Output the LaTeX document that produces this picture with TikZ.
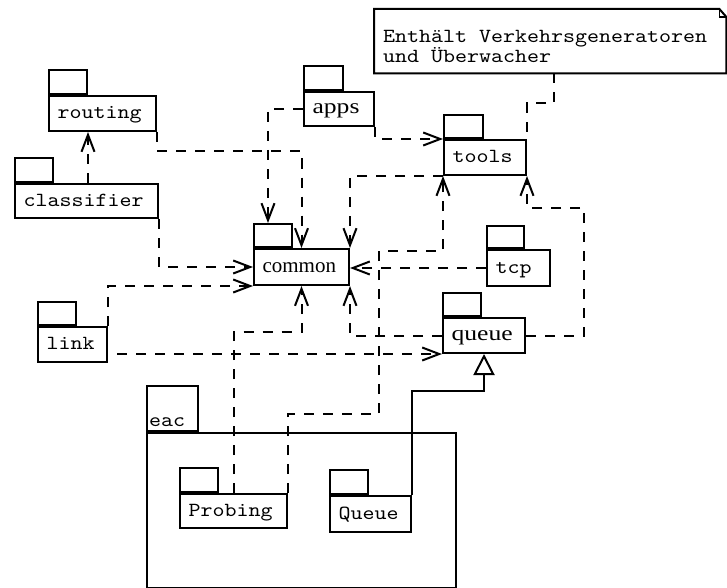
\documentclass[tikz,border=0pt]{standalone}
\usepackage{fontspec}
\usetikzlibrary{arrows.meta,calc}
\newfontfamily\pkgmono[FakeStretch=1.143]{lmmono10-regular.otf}
\newfontfamily\pkgserif{Liberation Serif}
\newfontfamily\pkgserifwide[FakeStretch=1.22]{Liberation Serif}
\newcommand\pkgsize{\fontsize{20}{20}\selectfont}

\begin{document}
\begin{tikzpicture}[x=1pt,y=-1pt,
  pkgbody/.style={draw, line width=2pt, anchor=north west, inner xsep=8.5pt,
    inner ysep=0pt, text height=14pt, text depth=4pt, align=left,
    font=\pkgmono\pkgsize},
  pkgtab/.style={draw, line width=2pt, anchor=south west, inner sep=0pt,
    minimum width=38pt, minimum height=24pt},
  dep/.style={line width=2pt, dash pattern=on 10pt off 9pt,
    -{Straight Barb[length=17pt,width=13pt]}},
  link line/.style={line width=2pt, dash pattern=on 10pt off 9pt},
  generalize/.style={line width=2pt,
    -{Triangle[open,fill=white,length=21pt,width=21pt]}},
  notetext/.style={anchor=base west, inner sep=0pt, font=\pkgmono\pkgsize}
]
\useasboundingbox (0,0) rectangle (727,588);

% ---- subsystem eac with its nested packages ----
\node[draw, line width=2pt, anchor=north west, minimum width=309pt,
  minimum height=155pt, inner sep=0pt] (eac) at (146,432) {};
\node[pkgtab, minimum width=51pt, minimum height=45pt] (eac-tab) at (eac.north west) {};
\node[notetext] (eac-label) at ([xshift=3pt,yshift=6pt]eac-tab.south west) {eac};

\node[pkgbody, text width=90pt, minimum height=34pt] (probing) at (179,493) {Probing};
\node[pkgtab] (probing-tab) at (probing.north west) {};
\node[pkgbody, text width=64pt, minimum height=36pt] (Queue) at (329,495) {Queue};
\node[pkgtab] (Queue-tab) at (Queue.north west) {};

% ---- top level packages ----
\node[pkgbody, text width=90pt, minimum height=35pt] (routing) at (48,95) {routing};
\node[pkgtab] (routing-tab) at (routing.north west) {};
\node[pkgbody, text width=126pt, minimum height=34pt] (classifier) at (14,183) {classifier};
\node[pkgtab] (classifier-tab) at (classifier.north west) {};
\node[pkgbody, text width=53pt, minimum height=34pt, font=\pkgserifwide\fontsize{21}{21}\selectfont] (apps) at (303,91) {apps};
\node[pkgtab, minimum width=39pt] (apps-tab) at (apps.north west) {};
\node[pkgbody, text width=65pt, minimum height=35pt] (tools) at (443,139) {tools};
\node[pkgtab, minimum width=39pt, minimum height=23pt] (tools-tab) at (tools.north west) {};
\node[pkgbody, text width=78pt, minimum height=36pt, font=\pkgserif\fontsize{21}{21}\selectfont] (common) at (253,248) {common};
\node[pkgtab, minimum height=23pt] (common-tab) at (common.north west) {};
\node[pkgbody, text width=46pt, minimum height=36pt] (tcp) at (486,249) {tcp};
\node[pkgtab, minimum width=37pt, minimum height=22pt] (tcp-tab) at (tcp.north west) {};
\node[pkgbody, text width=65pt, minimum height=35pt, font=\pkgserifwide\fontsize{21}{21}\selectfont] (queue) at (442,317) {queue};
\node[pkgtab, minimum height=23pt] (queue-tab) at (queue.north west) {};
\node[pkgbody, text width=52pt, minimum height=35pt] (link) at (37,326) {link};
\node[pkgtab, minimum height=23pt] (link-tab) at (link.north west) {};

% ---- note ----
\node[anchor=north west, minimum width=352pt, minimum height=64pt, inner sep=0pt] (note) at (374,9) {};
\draw[line width=2pt] (note.north west) -- ([xshift=-7pt]note.north east)
  -- ([yshift=-8pt]note.north east) -- (note.south east) -- (note.south west) -- cycle;
\draw[line width=1.5pt] ([xshift=-7pt]note.north east) -- ([xshift=-7pt,yshift=-8pt]note.north east)
  -- ([yshift=-8pt]note.north east);
\node[notetext] (note-l1) at (383,43) {Enthält Verkehrsgeneratoren};
\node[notetext] (note-l2) at (383,63) {und Überwacher};

% ---- dependencies ----
\draw[dep] (routing-tab.east |- classifier.north) -- (routing-tab.east |- routing.south);
\draw[dep] (classifier.south east) |- (common.west);
\draw[dep] (routing.south east) -- ++(0,19) -| (common.north);
\draw[dep] (apps.west) -| ([xshift=-5pt]common-tab.north);
\draw[dep] (apps.south east) |- (tools.north west);
\draw[dep] (tools.south west) -| (common.north east);
\draw[dep] (tcp.west) -- (tcp.west -| common.east);
\draw[dep] (queue.west) -| (common.south east);
\draw[dep] (queue.east) -| ++(58,-128) -| (tools.south east);
\draw[dep] (link.north east) |- (common.south west);
\draw[dep, dash phase=10pt] (link.east |- queue.south west) -- (queue.south west);
\draw[dep] (probing.north) |- ($(common.south)+(0,46)$) -- (common.south);
\draw[dep] (probing.north east) -- ++(0,-79) -| ++(91,-163) -| (tools.south west);

% ---- generalization and note anchor ----
\draw[generalize] (Queue.north east) -- ++(0,-104) -| (queue.south);
\draw[link line] ([xshift=4pt]note.south) -- ++(0,30) -| (tools.north east);
\end{tikzpicture}
\end{document}
